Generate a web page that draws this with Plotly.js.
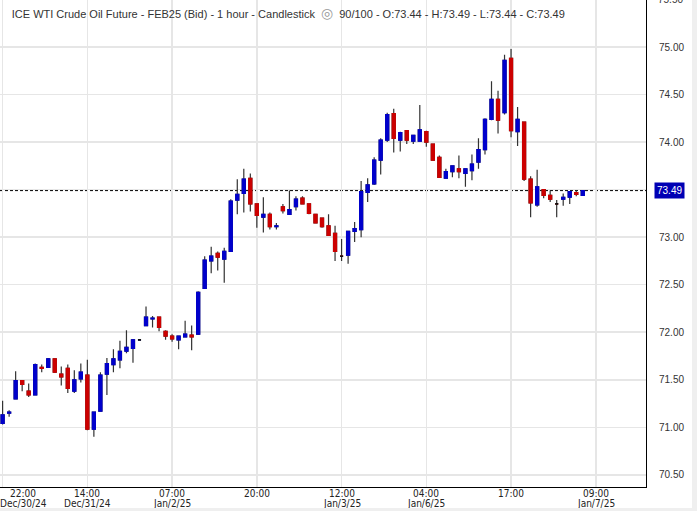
<!DOCTYPE html>
<html><head><meta charset="utf-8">
<script src="https://cdn.plot.ly/plotly-3.0.1.min.js"></script>
<style>
html,body{margin:0;padding:0;background:#efefef;}
#chart{width:692px;height:508px;background:#fff;}
</style></head><body><div id="chart"></div>
<script>
// ---- data (1-hour bars) ----
const openP  = [71.04,71.15,71.30,71.49,71.38,71.34,71.63,71.63,71.72,71.56,71.62,71.38,71.51,71.55,70.98,71.17,71.56,71.66,71.71,71.80,
                71.83,71.92,72.07,72.14,72.16,72.01,71.96,71.92,71.95,71.97,71.98,72.46,72.75,72.83,72.77,72.85,73.39,73.46,73.62,73.35,
                73.21,73.24,73.11,73.32,73.24,73.32,73.41,73.35,73.24,73.20,73.12,73.04,72.80,72.81,73.06,73.08,73.47,73.56,73.81,74.02,
                74.30,74.02,74.12,74.01,74.01,74.11,73.98,73.84,73.62,73.69,73.72,73.67,73.70,73.79,73.92,74.24,74.45,74.31,74.88,74.11,
                74.21,73.61,73.34,73.50,73.44,73.35,73.40,73.42,73.47,73.44];
const highP  = [71.28,71.18,71.59,71.49,71.46,71.67,71.66,71.73,71.72,71.64,71.66,71.60,71.67,71.71,71.16,71.58,71.73,71.82,71.91,72.02,
                71.93,71.92,72.27,72.17,72.16,72.02,71.98,71.96,72.12,72.07,72.43,72.80,72.90,72.85,72.89,73.40,73.61,73.72,73.67,73.35,
                73.42,73.26,73.15,73.35,73.49,73.43,73.43,73.35,73.24,73.20,73.24,73.12,72.98,73.06,73.16,73.59,73.62,73.84,74.04,74.31,
                74.35,74.11,74.12,74.07,74.39,74.12,73.98,73.86,73.72,73.75,73.86,73.72,73.87,74.04,74.25,74.64,74.54,74.92,74.98,74.37,
                74.21,73.64,73.71,73.50,73.49,73.39,73.46,73.48,73.49,73.49];
const lowP   = [71.03,71.11,71.30,71.38,71.32,71.34,71.58,71.63,71.57,71.44,71.36,71.36,71.47,70.97,70.90,71.17,71.34,71.58,71.62,71.78,
                71.68,71.92,72.07,72.05,72.01,71.92,71.90,71.82,71.95,71.81,71.97,72.46,72.62,72.65,72.52,72.85,73.24,73.26,73.27,73.10,
                73.05,73.08,73.08,73.25,73.24,73.28,73.35,73.24,73.15,73.10,73.02,72.75,72.75,72.72,72.95,73.00,73.37,73.55,73.66,74.00,
                73.89,73.90,73.98,73.98,74.01,73.95,73.81,73.63,73.62,73.63,73.62,73.53,73.60,73.72,73.87,74.23,74.09,74.29,74.05,73.96,
                73.59,73.21,73.32,73.41,73.37,73.21,73.33,73.35,73.43,73.44];
const closeP = [71.13,71.16,71.49,71.45,71.34,71.66,71.62,71.72,71.58,71.53,71.41,71.50,71.58,70.98,71.16,71.55,71.67,71.72,71.80,71.84,
                71.92,71.92,72.16,72.15,72.05,71.96,71.93,71.96,71.98,71.95,72.42,72.76,72.80,72.79,72.85,73.38,73.45,73.61,73.35,73.23,
                73.24,73.11,73.12,73.28,73.29,73.40,73.35,73.25,73.15,73.11,73.02,72.85,72.80,73.06,73.09,73.48,73.55,73.81,74.02,74.29,
                74.04,74.10,74.02,74.07,74.13,74.00,73.81,73.63,73.69,73.75,73.69,73.72,73.77,73.92,74.24,74.45,74.23,74.86,74.12,74.24,
                73.61,73.36,73.53,73.44,73.40,73.35,73.42,73.48,73.45,73.49];
const tickIdx  = [0, 13, 26, 39, 52, 65, 78, 91];
const tickTime = ["22:00", "14:00", "07:00", "20:00", "12:00", "04:00", "17:00", "09:00"];
const tickDate = ["Dec/30/24", "Dec/31/24", "Jan/2/25", "", "Jan/3/25", "Jan/6/25", "", "Jan/7/25"];
const yTicks   = [70.5, 71.0, 71.5, 72.0, 72.5, 73.0, 73.5, 74.0, 74.5, 75.0];
const lastPrice = 73.49;
const barsShown = 90, barsTotal = 100;
const titleMain = "ICE WTI Crude Oil Future - FEB25 (Bid) - 1 hour - Candlestick";

// ---- styling ----
const UP = '#0000cc', DOWN = '#cc0000', WICK = '#333333', GRID = '#e6e6e6';
const FONT = 'Liberation Sans, Arial, sans-serif';
const NARROW = 'Liberation Sans Narrow, Arial Narrow, DejaVu Sans Condensed, Liberation Sans, Arial, sans-serif';

const xIdx = openP.map((_, i) => i);
const bodyHi = openP.map((o, i) => Math.max(o, closeP[i]));
const bodyLo = openP.map((o, i) => Math.min(o, closeP[i]));
const dojiIdx = xIdx.filter(i => openP[i] === closeP[i]);

const traceWicks = {
  type: 'candlestick', x: xIdx, open: openP, high: highP, low: lowP, close: closeP,
  increasing: {line: {color: WICK, width: 1.2}, fillcolor: UP},
  decreasing: {line: {color: WICK, width: 1.2}, fillcolor: DOWN},
  hoverinfo: 'skip'
};
const traceBodies = {
  type: 'candlestick', x: xIdx, open: openP, high: bodyHi, low: bodyLo, close: closeP,
  increasing: {line: {color: UP, width: 1.2}, fillcolor: UP},
  decreasing: {line: {color: DOWN, width: 1.2}, fillcolor: DOWN},
  hoverinfo: 'skip'
};
const traceDoji = {
  type: 'candlestick', x: dojiIdx,
  open: dojiIdx.map(i => openP[i]), high: dojiIdx.map(i => openP[i]),
  low: dojiIdx.map(i => closeP[i]), close: dojiIdx.map(i => closeP[i]),
  increasing: {line: {color: '#111', width: 1.6}, fillcolor: '#111'},
  decreasing: {line: {color: '#111', width: 1.6}, fillcolor: '#111'},
  hoverinfo: 'skip'
};

const n = openP.length - 1;
const ohlcText = `${barsShown}/${barsTotal} - O:${openP[n].toFixed(2)} - H:${highP[n].toFixed(2)} - L:${lowP[n].toFixed(2)} - C:${closeP[n].toFixed(2)}`;

const annotations = [];
tickIdx.forEach((t, i) => {
  const shift = (i === 0) ? 20.5 : 0;
  annotations.push({x: t, xref: 'x', y: 0, yref: 'paper', yanchor: 'top', yshift: 1, xshift: shift,
    text: tickTime[i], showarrow: false, font: {family: NARROW, size: 10, color: '#222'}});
  if (tickDate[i]) annotations.push({x: t, xref: 'x', y: 0, yref: 'paper', yanchor: 'top', yshift: -9, xshift: shift,
    text: tickDate[i], showarrow: false, font: {family: NARROW, size: 10, color: '#222'}});
});
annotations.push({x: 1, xref: 'paper', xanchor: 'left', xshift: 8, y: lastPrice, yref: 'y',
  text: lastPrice.toFixed(2), showarrow: false, bgcolor: '#0000b4', borderpad: 2,
  font: {family: FONT, size: 10, color: '#fff'}});
annotations.push({x: 1, xref: 'paper', xanchor: 'left', xshift: 10, y: 1, yref: 'paper', yanchor: 'middle', yshift: 1,
  text: (75.5).toFixed(2), showarrow: false, font: {family: FONT, size: 10, color: '#333'}});

const layout = {
  width: 692, height: 508,
  margin: {l: 0, r: 46, t: 0, b: 21, pad: 0},
  paper_bgcolor: '#fff', plot_bgcolor: '#fff',
  showlegend: false, hovermode: false,
  boxmode: 'overlay', boxgap: 0.33,
  title: {
    text: titleMain + '\u00a0\u00a0<span style="color:#9a9a9a;font-size:14px">◎</span>\u00a0\u00a0' + ohlcText,
    xref: 'container', x: 0.017, xanchor: 'left',
    yref: 'container', y: 0.972, yanchor: 'middle',
    font: {family: FONT, size: 11, color: '#333'}
  },
  xaxis: {
    type: 'linear', range: [-0.4, 98.7], rangeslider: {visible: false},
    tickvals: tickIdx, ticktext: tickIdx.map(() => ''), ticks: '',
    showgrid: true, gridcolor: GRID, gridwidth: 1.5, zeroline: false,
    showline: true, linecolor: '#000', linewidth: 1, fixedrange: true
  },
  yaxis: {
    side: 'right', range: [70.372, 75.495],
    tickvals: yTicks, ticktext: yTicks.map(v => (Math.abs(v - lastPrice) < 0.05) ? '' : v.toFixed(2)), ticks: '',
    ticklabelstandoff: 10,
    tickfont: {family: FONT, size: 10, color: '#333'},
    showgrid: true, gridcolor: GRID, gridwidth: 1.5, zeroline: false,
    showline: true, linecolor: '#000', linewidth: 1, fixedrange: true
  },
  shapes: [{type: 'line', xref: 'paper', x0: 0, x1: 1, yref: 'y', y0: lastPrice, y1: lastPrice,
    layer: 'between', line: {color: '#000', width: 1, dash: '3px,2px'}}],
  annotations: annotations
};

Plotly.newPlot('chart', [traceWicks, traceBodies, traceDoji], layout, {staticPlot: true, displayModeBar: false});
</script></body></html>
